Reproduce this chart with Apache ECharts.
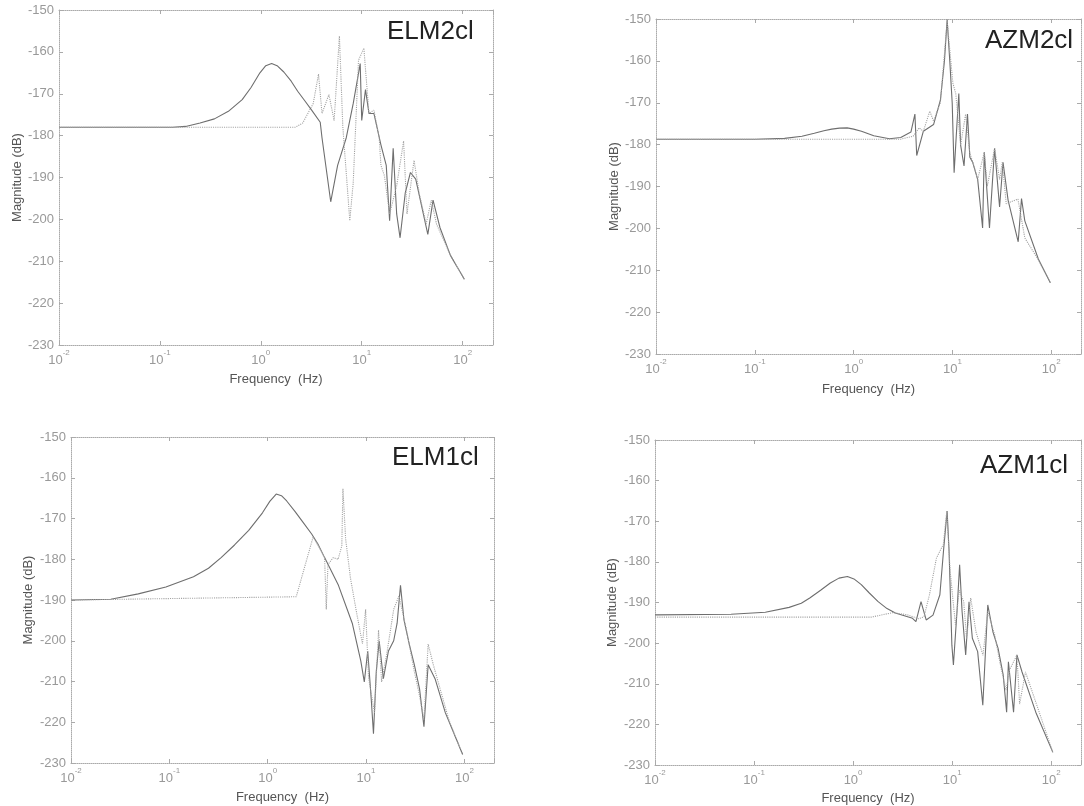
<!DOCTYPE html>
<html>
<head>
<meta charset="utf-8">
<title>Magnitude plots</title>
<script src="https://cdn.jsdelivr.net/npm/echarts/dist/echarts.min.js"></script>
<style>
  html, body { margin: 0; padding: 0; background: #fff; }
  #main { width: 1084px; height: 806px; }
</style>
</head>
<body>
<div id="main"></div>
<script>
// panel names, drawn top-right inside each plot
var panelNames = ['ELM2cl', 'AZM2cl', 'ELM1cl', 'AZM1cl'];

// axis ranges / ticks
var freqMin = 0.01, freqMax = 200;
var magMin = -230, magMax = -150, magStep = 10;

// [frequency Hz, magnitude dB]
// ELM2cl
var elm2Solid = [[0.01,-178],[0.134,-178],[0.18,-177.8],[0.25,-177],[0.347,-176],[0.477,-174.2],[0.654,-171.4],[0.8,-168.5],[0.98,-165],[1.12,-163.3],[1.28,-162.8],[1.45,-163.3],[1.69,-164.8],[2.0,-167],[2.32,-169.4],[2.75,-171.8],[3.19,-173.9],[3.88,-176.8],[4.04,-180.5],[4.93,-195.8],[5.77,-187.1],[7.03,-180.5],[8.24,-172.3],[9.66,-162.8],[10.0,-176.4],[10.9,-169.0],[11.8,-174.7],[13.2,-174.7],[15.5,-182.2],[17.5,-187.1],[18.9,-200.3],[20.5,-183],[22.2,-198.7],[24.0,-204.4],[27.0,-193.7],[30.4,-188.8],[34.3,-190.4],[45.2,-203.6],[50.9,-195.4],[59.7,-202],[75.7,-208.6],[104,-214.3]];
var elm2Dotted = [[0.01,-178],[2.2,-178],[2.6,-177],[3.31,-172.3],[3.73,-165.3],[4.04,-174.7],[4.73,-170.2],[5.33,-176.4],[6.01,-156.2],[6.5,-178],[7.62,-200.3],[8.24,-191.2],[9.29,-162],[10.5,-159.1],[11.8,-174.7],[13.2,-173.9],[14.9,-180.5],[15.5,-187.1],[16.8,-189.6],[18.9,-198.7],[22.2,-192],[26.0,-181.3],[28.1,-198.7],[33.0,-185.9],[37.1,-193.7],[43.5,-201.1],[48.9,-195.4],[55.1,-201.1],[75.7,-208.6],[104,-214.3]];
// AZM2cl
var azm2Solid = [[0.01,-178.7],[0.1,-178.7],[0.2,-178.5],[0.3,-178],[0.4,-177.3],[0.5,-176.7],[0.6,-176.3],[0.72,-176.05],[0.86,-176],[1.0,-176.3],[1.2,-176.8],[1.6,-177.9],[2.3,-178.6],[3.0,-178.3],[3.8,-177],[4.17,-172.7],[4.35,-182.6],[5.08,-176.8],[6.44,-175.2],[7.55,-169.4],[8.3,-160],[8.84,-150.1],[9.4,-160],[9.95,-170.2],[10.4,-186.7],[10.8,-180],[11.6,-167.8],[12.1,-180.1],[13.1,-185.1],[14.2,-172.7],[15,-183],[16.0,-184.2],[18.0,-188.3],[20.2,-199.9],[21.0,-181.8],[23.7,-199.9],[26.7,-180.9],[30,-194.9],[32.5,-184.2],[36.6,-193.3],[46.3,-203.2],[50,-192.9],[54,-198.2],[74,-207.3],[98,-213]];
var azm2Dotted = [[0.01,-178.7],[3.0,-178.7],[4.0,-178],[4.6,-176],[5.08,-176.8],[5.9,-172],[6.44,-174.4],[7.55,-170],[8.84,-150.5],[10.1,-165.3],[10.8,-167.8],[12.1,-180.1],[13.6,-172.7],[15,-182],[16.5,-185.1],[18,-188.3],[21,-181.8],[22.5,-190],[26.7,-180.9],[30,-188.3],[32,-184.2],[35,-194.1],[46,-193],[54,-202.3],[74,-207.5],[98,-213]];
// ELM1cl
var elm1Solid = [[0.01,-190],[0.0254,-189.8],[0.0483,-188.5],[0.0922,-186.8],[0.176,-184.3],[0.25,-182.2],[0.336,-179.6],[0.46,-176.5],[0.641,-172.9],[0.885,-168.6],[1.05,-165.8],[1.22,-164],[1.38,-164.4],[1.56,-165.7],[1.9,-168.3],[2.33,-171.2],[2.8,-173.8],[3.23,-176.2],[3.79,-179.6],[5.24,-186.4],[7.24,-195.7],[8.85,-205],[9.6,-210.1],[10.4,-202.5],[11.3,-214.4],[11.9,-222.8],[12.7,-207.6],[13.6,-200],[15,-209.3],[16.9,-202.5],[19.1,-200],[20.7,-195.7],[22.4,-186.4],[24.3,-194.9],[27.5,-200.8],[31,-205.9],[35,-211.8],[38.8,-221.1],[42.8,-205.9],[50.3,-209.3],[64.1,-217.7],[96,-227.9]];
var elm1Dotted = [[0.01,-190],[1.95,-189.2],[2.9,-174.5],[3.5,-178],[3.79,-179.6],[3.94,-192.3],[4.1,-181.3],[4.64,-179.6],[5.2,-180],[5.67,-176.7],[5.82,-162.7],[6.2,-175],[6.95,-184.7],[8,-193],[9.2,-200.8],[9.9,-192.3],[10.6,-209],[12.2,-217.7],[13.4,-197.4],[14.4,-210.1],[16.3,-203],[19.1,-192.3],[21.6,-189],[25.4,-196.6],[31,-207.6],[35,-213.5],[38.8,-219.4],[42.8,-200.8],[48.3,-205.9],[69.5,-219.4],[96,-227.9]];
// AZM1cl
var azm1Solid = [[0.01,-193.05],[0.0586,-192.9],[0.13,-192.4],[0.226,-191.2],[0.3,-190.2],[0.365,-188.9],[0.47,-187],[0.589,-185.2],[0.72,-184],[0.877,-183.6],[1.02,-184.2],[1.21,-185.6],[1.45,-187.6],[1.79,-189.8],[2.2,-191.5],[2.67,-192.6],[3.98,-193.9],[4.31,-194.7],[4.85,-189.8],[5.47,-194.3],[6.41,-193.1],[7.52,-188.1],[8.2,-177],[8.9,-167.5],[9.3,-177],[9.94,-200.5],[10.3,-205.4],[11.2,-192.2],[11.9,-180.7],[12.6,-192.2],[13.7,-202.9],[14.8,-189.8],[16,-198.8],[18.1,-202.1],[20.4,-215.3],[22.9,-190.6],[25.8,-197.2],[29.1,-201.3],[32.8,-207.9],[35.5,-217],[37,-204.6],[41.7,-217],[45.1,-202.9],[50.8,-207.1],[69.9,-217],[104,-226.9]];
var azm1Dotted = [[0.01,-193.6],[1.53,-193.6],[2.5,-192.5],[3.5,-193],[4.6,-194],[5.2,-193.5],[5.9,-188.1],[6.95,-179],[8.15,-175.7],[8.83,-167.5],[9.55,-182.3],[10.8,-195.5],[11.8,-187],[13.1,-189.8],[14,-199],[15.4,-188.9],[17.4,-197.2],[20.5,-203],[22.9,-192.2],[26.9,-198],[30.5,-205],[35,-211.6],[38,-206.6],[45.1,-202.9],[48,-215],[55,-207.1],[75.7,-217],[104,-226.9]];

var solidData = [elm2Solid, azm2Solid, elm1Solid, azm1Solid];
var dottedData = [elm2Dotted, azm2Dotted, elm1Dotted, azm1Dotted];

// where each plot sits on the page
var boxes = [
  { left: 59,  top: 10,  width: 434, height: 335, tx: 387, ty: 19,  yGap: 35, xGap: 28 },
  { left: 656, top: 19,  width: 430, height: 335, tx: 985, ty: 28,  yGap: 33, xGap: 29 },
  { left: 71,  top: 437, width: 423, height: 326, tx: 392, ty: 445, yGap: 36, xGap: 28 },
  { left: 655, top: 440, width: 430, height: 335, tx: 980, ty: 453, yGap: 36, xGap: 27 }
];

var font = '"Liberation Sans", Arial, sans-serif';
var frameLine = { show: true, lineStyle: { color: '#aaa', type: 'dotted', width: 1 } };
var innerTick = { show: true, inside: true, length: 4, lineStyle: { color: '#aaa' } };

function logLabel(v) {
  var e = Math.log10(v);
  var r = Math.round(e);
  if (Math.abs(e - r) > 1e-6) return '';
  return '{b|10}{e|' + r + '}';
}

var grid = [], xAxis = [], yAxis = [], series = [], title = [];

boxes.forEach(function (b, i) {
  grid.push({ left: b.left, top: b.top, width: b.width, height: b.height });

  title.push({
    text: panelNames[i], left: b.tx, top: b.ty, padding: 0,
    textStyle: { fontSize: 26, fontWeight: 'normal', color: '#222', fontFamily: font }
  });

  xAxis.push({
    type: 'log', logBase: 10, gridIndex: i, min: freqMin, max: freqMax,
    name: 'Frequency  (Hz)', nameLocation: 'middle', nameGap: b.xGap,
    nameTextStyle: { fontSize: 13, color: '#555', fontFamily: font },
    axisLine: frameLine, axisTick: innerTick, splitLine: { show: false },
    axisLabel: {
      margin: 4, formatter: logLabel,
      rich: {
        b: { fontSize: 13, color: '#999', fontFamily: font, lineHeight: 18, verticalAlign: 'bottom' },
        e: { fontSize: 8, color: '#999', fontFamily: font, lineHeight: 10, verticalAlign: 'top' }
      }
    }
  });
  xAxis.push({
    type: 'log', logBase: 10, gridIndex: i, min: freqMin, max: freqMax, position: 'top',
    axisLine: frameLine, axisTick: innerTick, axisLabel: { show: false }, splitLine: { show: false }
  });

  yAxis.push({
    type: 'value', gridIndex: i, min: magMin, max: magMax, interval: magStep,
    name: 'Magnitude (dB)', nameLocation: 'middle', nameGap: b.yGap,
    nameTextStyle: { fontSize: 13, color: '#555', fontFamily: font },
    axisLine: frameLine, axisTick: innerTick, splitLine: { show: false },
    axisLabel: { margin: 5, fontSize: 13, color: '#999', fontFamily: font }
  });
  yAxis.push({
    type: 'value', gridIndex: i, min: magMin, max: magMax, interval: magStep, position: 'right',
    axisLine: frameLine, axisTick: innerTick, axisLabel: { show: false }, splitLine: { show: false }
  });

  series.push({
    type: 'line', xAxisIndex: 2 * i, yAxisIndex: 2 * i, data: solidData[i],
    showSymbol: false, silent: true, animation: false,
    lineStyle: { color: '#6e6e6e', width: 1.1 }
  });
  series.push({
    type: 'line', xAxisIndex: 2 * i, yAxisIndex: 2 * i, data: dottedData[i],
    showSymbol: false, silent: true, animation: false,
    lineStyle: { color: '#a2a2a2', width: 1.1, type: 'dotted' }
  });
});

var chart = echarts.init(document.getElementById('main'));
chart.setOption({
  backgroundColor: '#fff',
  animation: false,
  title: title,
  grid: grid,
  xAxis: xAxis,
  yAxis: yAxis,
  series: series
});
</script>
</body>
</html>
